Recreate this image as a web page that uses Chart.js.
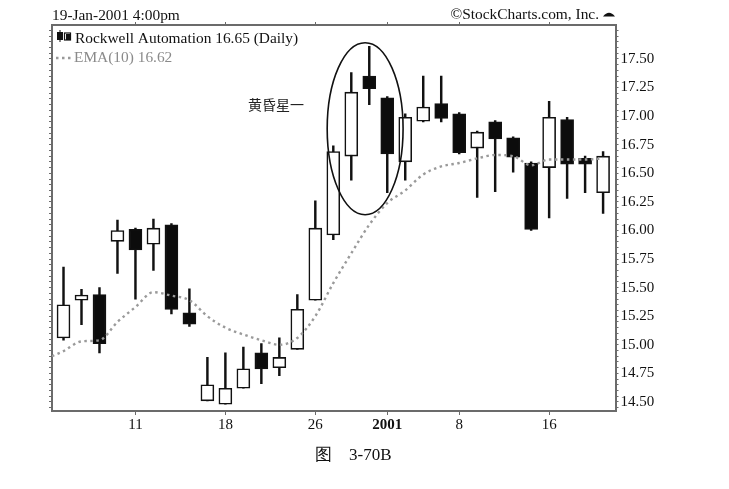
<!DOCTYPE html>
<html>
<head>
<meta charset="utf-8">
<style>
  html, body { margin: 0; padding: 0; background: #fff; }
  canvas { display: block; }
</style>
<script src="https://cdn.jsdelivr.net/npm/chart.js@4"></script>
</head>
<body>
<canvas id="chart" width="729" height="489"></canvas>
<script>
  // values, one entry per trading day
  const opens  = [15.06, 15.39, 15.44, 15.905, 16.01, 15.88, 16.05, 15.28, 14.51, 14.48, 14.62, 14.93, 14.80, 14.96, 15.39, 15.96, 16.65, 17.35, 17.16, 16.60, 16.955, 17.11, 17.02, 16.72, 16.95, 16.81, 16.59, 16.55, 16.97, 16.63, 16.33];
  const closes = [15.35, 15.435, 15.01, 16.00, 15.83, 16.02, 15.31, 15.18, 14.65, 14.62, 14.79, 14.79, 14.89, 15.31, 16.02, 16.69, 17.21, 17.24, 16.67, 16.99, 17.08, 16.98, 16.68, 16.86, 16.80, 16.64, 16.01, 16.99, 16.58, 16.58, 16.65];
  const highs  = [15.68, 15.485, 15.50, 16.09, 16.02, 16.10, 16.06, 15.49, 14.89, 14.93, 14.98, 15.01, 15.06, 15.44, 16.26, 16.74, 17.38, 17.61, 17.17, 17.02, 17.35, 17.35, 17.03, 16.87, 16.96, 16.82, 16.60, 17.13, 16.99, 16.65, 16.69];
  const lows   = [15.04, 15.175, 14.93, 15.625, 15.40, 15.65, 15.27, 15.16, 14.51, 14.48, 14.62, 14.66, 14.73, 14.96, 15.39, 15.92, 16.44, 17.10, 16.33, 16.44, 16.95, 16.95, 16.67, 16.29, 16.34, 16.51, 16.00, 16.11, 16.28, 16.33, 16.15];
  const ema    = [14.945, 15.03, 15.04, 15.20, 15.33, 15.46, 15.43, 15.39, 15.25, 15.15, 15.09, 15.04, 15.00, 15.06, 15.25, 15.54, 15.80, 16.05, 16.24, 16.35, 16.49, 16.56, 16.59, 16.63, 16.66, 16.65, 16.57, 16.62, 16.62, 16.62, 16.63];
  const emaBefore = 14.90;

  const tickDays   = [4, 9, 14, 18, 22, 27];
  const tickLabels = ['11', '18', '26', '2001', '8', '16'];

  const SERIF = '"Liberation Serif", serif';
  const xMin = -0.64, xMax = 30.69;
  const yMin = 14.421, yMax = 17.797;

  const days = opens.map((_, i) => i);

  const pricePoints = (a, b) => days.map(i => ({ x: i, y: [a[i], b[i]] }));
  const emaPoints = [{ x: xMin, y: emaBefore }].concat(days.map(i => ({ x: i, y: ema[i] })));

  function dayTicks(scale) {
    scale.ticks = tickDays.map(v => ({ value: v }));
  }
  const dayLabel = v => tickLabels[tickDays.indexOf(v)];
  // only the quarter steps get a label, the chart stops labelling at 17.50
  const priceLabel = v => Math.round(v * 100) % 25 === 0 && v < 17.6 ? v.toFixed(2) : '';

  const AXIS_COLOR = '#6b6b6b';

  // page texts, the circle and the small legend marks
  const extras = {
    id: 'extras',
    afterDatasetsDraw(chart) {
      const c = chart.ctx, sx = chart.scales.x, sy = chart.scales.y;
      c.save();

      // circle around the evening star
      c.beginPath();
      c.ellipse(sx.getPixelForValue(16.77), sy.getPixelForValue(16.89),
        sx.getPixelForValue(16.77 + 2.11) - sx.getPixelForValue(16.77),
        sy.getPixelForValue(16.89) - sy.getPixelForValue(16.89 + 0.752),
        0, 0, Math.PI * 2);
      c.lineWidth = 1.6;
      c.strokeStyle = '#111';
      c.stroke();

      c.fillStyle = '#111';
      c.textBaseline = 'alphabetic';
      c.textAlign = 'left';
      c.font = '15.4px ' + SERIF;
      c.fillText('19-Jan-2001 4:00pm', 52, 20);
      c.fillText('Rockwell Automation 16.65 (Daily)', 75, 43);
      c.textAlign = 'right';
      c.fillText('©StockCharts.com, Inc.', 599, 19);

      // figure caption under the chart
      c.textAlign = 'left';
      c.font = '17px ' + SERIF;
      c.fillText('图', 315, 460);
      c.fillText('3-70B', 349, 460);

      // little mountain after the copyright
      c.beginPath();
      c.moveTo(603, 16.5);
      c.quadraticCurveTo(609, 9, 615, 16.5);
      c.closePath();
      c.fill();

      // legend candle icon
      c.fillRect(57, 32, 6, 8);
      c.fillRect(59.5, 30, 1, 12);
      c.strokeStyle = '#111';
      c.lineWidth = 1.2;
      c.strokeRect(64.5, 33, 6, 7);
      c.fillRect(66, 34, 4, 6);

      c.font = '15.4px ' + SERIF;
      c.fillStyle = '#8a8a8a';
      c.fillText('EMA(10) 16.62', 74, 62);
      c.beginPath();
      c.setLineDash([2.5, 3.5]);
      c.strokeStyle = '#999';
      c.lineWidth = 2.4;
      c.moveTo(56, 58);
      c.lineTo(73, 58);
      c.stroke();
      c.setLineDash([]);

      c.fillStyle = '#222';
      c.font = '14px "Noto Sans CJK SC"';
      c.fillText('黄昏星一', 248, 110);

      c.restore();
    }
  };

  new Chart(document.getElementById('chart').getContext('2d'), {
    type: 'bar',
    data: {
      datasets: [
        {
          type: 'line',
          data: emaPoints,
          borderColor: '#9a9a9a',
          borderWidth: 2.4,
          borderDash: [2.5, 3.5],
          pointRadius: 0,
          cubicInterpolationMode: 'monotone',
          order: 0
        },
        {
          data: pricePoints(opens, closes),
          backgroundColor: days.map(i => closes[i] > opens[i] ? '#fff' : '#0c0c0c'),
          borderColor: '#111',
          borderWidth: 1.6,
          borderSkipped: false,
          barThickness: 13,
          grouped: false,
          order: 1
        },
        {
          data: pricePoints(lows, highs),
          backgroundColor: '#111',
          borderWidth: 0,
          barThickness: 1.8,
          grouped: false,
          order: 2
        }
      ]
    },
    options: {
      responsive: false,
      animation: false,
      events: [],
      layout: { padding: 0 },
      plugins: { legend: { display: false }, title: { display: false }, tooltip: { enabled: false } },
      scales: {
        x: {
          type: 'linear', position: 'bottom', min: xMin, max: xMax, offset: false,
          afterBuildTicks: dayTicks,
          afterFit(s) { s.height = 78; },
          border: { color: AXIS_COLOR, width: 2, dash: [4, 1] },
          grid: { offset: false, drawOnChartArea: false, tickLength: 4, tickColor: AXIS_COLOR },
          ticks: {
            callback: dayLabel, autoSkip: false, maxRotation: 0, padding: 1, color: '#111',
            font: ctx => ({
              family: SERIF, size: 15,
              weight: ctx.tick && dayLabel(ctx.tick.value) === '2001' ? 'bold' : 'normal'
            })
          }
        },
        xTop: {
          type: 'linear', position: 'top', min: xMin, max: xMax, offset: false,
          afterBuildTicks: dayTicks,
          afterFit(s) { s.height = 25; },
          border: { color: AXIS_COLOR, width: 2, dash: [4, 1] },
          grid: { offset: false, drawOnChartArea: false, tickLength: 3, tickColor: AXIS_COLOR },
          ticks: { display: false }
        },
        y: {
          type: 'linear', position: 'right', min: yMin, max: yMax,
          afterFit(s) { s.width = 729 - 615.5; },
          border: { color: AXIS_COLOR, width: 2, dash: [3, 1] },
          grid: { drawOnChartArea: false, tickLength: 3, tickColor: AXIS_COLOR },
          ticks: {
            stepSize: 0.05, includeBounds: false, autoSkip: false,
            callback: priceLabel, padding: 2, color: '#111',
            font: { family: SERIF, size: 15 }
          }
        },
        yLeft: {
          type: 'linear', position: 'left', min: yMin, max: yMax,
          afterFit(s) { s.width = 52; },
          border: { color: AXIS_COLOR, width: 2, dash: [3, 1] },
          grid: { drawOnChartArea: false, tickLength: 3, tickColor: AXIS_COLOR },
          ticks: { stepSize: 0.05, includeBounds: false, autoSkip: false, display: false }
        }
      }
    },
    plugins: [extras]
  });
</script>
</body>
</html>
